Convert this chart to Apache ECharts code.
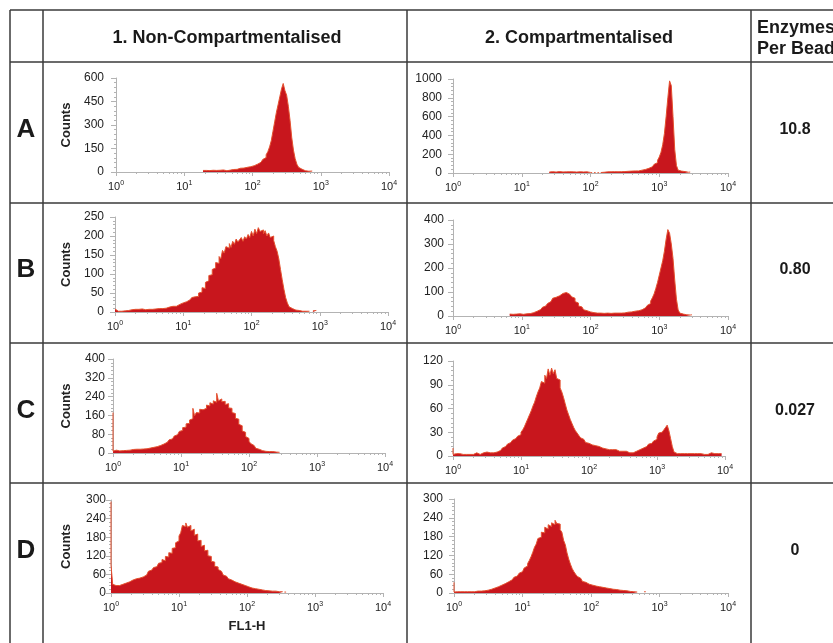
<!DOCTYPE html>
<html>
<head>
<meta charset="utf-8">
<script src="https://cdn.jsdelivr.net/npm/echarts@6/dist/echarts.min.js"></script>
<style>
  html, body { margin: 0; padding: 0; background: #fff; }
  #chart { width: 833px; height: 643px; }
</style>
</head>
<body>
<div id="chart"></div>
<script>
// table text
const columnTitles = ['1. Non-Compartmentalised', '2. Compartmentalised']
const enzymesTitle = ['Enzymes', 'Per Bead']
const rowLabels = ['A', 'B', 'C', 'D']
const enzymesPerBead = ['10.8', '0.80', '0.027', '0']

// y axis: max / tick step for each panel (A1, A2, B1, B2, C1, C2, D1, D2)
const yMaxes = [600, 1000, 250, 400, 400, 120, 300, 300]
const yIntervals = [150, 200, 50, 100, 80, 30, 60, 60]

// x axis decades (10^0 .. 10^4)
const decades = [1, 10, 100, 1000, 10000]
const minorSteps = [2, 3, 4, 5, 6, 7, 8, 9]

// histogram channels: each bin is 0.025 decade wide, starting at 10^start
const binStep = 0.025
const a1Start = 1.275
const a1Counts = [10, 8, 10, 12, 9, 10, 11, 9, 10, 12, 11, 10, 13, 18, 8, 5, 12, 15, 16, 18,
  17, 20, 24, 22, 25, 28, 30, 32, 34, 36, 40, 44, 50, 56, 62, 70, 80, 92, 110, 130,
  160, 200, 260, 320, 380, 430, 480, 530, 565, 520, 490, 420, 330, 220, 140, 85, 50, 30, 18, 12,
  8, 6, 5, 4, 6]
const a2Start = 1.4
const a2Counts = [10, 12, 14, 12, 10, 13, 15, 12, 11, 14, 12, 10, 13, 11, 12, 14, 10, 12, 13, 9,
  11, 10, 12, 8, 6, 3, null, 4, null, 3, null, 5, 8, 10, 12, 11, 13, 12, 14, 12,
  13, 15, 14, 16, 15, 17, 18, 16, 20, 18, 22, 24, 22, 26, 30, 34, 38, 44, 50, 58,
  66, 78, 92, 110, 135, 170, 220, 300, 420, 600, 800, 980, 930, 600, 250, 80, 30, 20, 18, 15,
  12, 8, 10]
const b1Start = 0
const b1Counts = [8, 3, 2, 3, 2, 4, 3, 5, 4, 3, 6, 5, 7, 6, 7, 6, 8, 7, 6, 8,
  7, 8, 7, 9, 8, 8, 9, 10, 9, 11, 10, 12, 13, 12, 15, 16, 15, 18, 20, 22,
  24, 23, 27, 30, 32, 35, 38, 40, 42, 41, 50, 52, 64, 62, 78, 82, 96, 98, 112, 116,
  130, 128, 146, 140, 162, 155, 172, 168, 180, 170, 186, 178, 192, 184, 190, 196, 186, 198, 192, 204,
  196, 212, 200, 218, 206, 222, 212, 216, 206, 214, 200, 208, 196, 200, 188, 172, 160, 140, 112, 85,
  60, 38, 24, 14, 9, 6, 5, 4, 4, 3, 2, 3, 2, 3, 2, null, null, 3, 4]
const b2Start = 0.65
const b2Counts = [4, null, null, null, null, null, null, null, 8, 7, 9, 8, 7, 9, 8, 7, 8, 9, 8, 10,
  12, 14, 18, 20, 24, 27, 32, 36, 42, 46, 52, 60, 66, 74, 78, 86, 84, 92, 94, 100,
  98, 100, 90, 88, 80, 74, 60, 54, 42, 38, 30, 26, 22, 19, 17, 15, 14, 13, 12, 11,
  12, 10, 11, 10, 12, 9, 11, 10, 12, 11, 12, 13, 12, 14, 13, 15, 16, 15, 17, 18,
  20, 19, 22, 24, 26, 30, 34, 38, 44, 52, 62, 76, 92, 115, 140, 170, 200, 230, 270, 320,
  360, 345, 300, 240, 150, 70, 25, 12, 8, 6, 5, 6, 4, 5]
const c1Start = 0
const c1Counts = [172, 8, 12, 10, 9, 11, 10, 12, 11, 13, 12, 14, 15, 14, 16, 17, 16, 18, 17, 19,
  18, 20, 21, 22, 24, 25, 27, 30, 32, 36, 38, 42, 46, 50, 56, 60, 66, 72, 78, 84,
  92, 96, 108, 110, 124, 126, 140, 146, 190, 158, 172, 170, 186, 184, 192, 190, 204, 200, 214, 208,
  222, 216, 254, 222, 230, 218, 220, 206, 210, 192, 190, 172, 168, 148, 144, 122, 116, 94, 88, 70,
  62, 50, 40, 32, 26, 20, 16, 12, 10, 8, 7, 6, 6, 5, 6, 5, 4, 5, 3]
const c2Start = 0
const c2Counts = [10, 2, 3, 2, 3, 2, 2, 3, 2, 3, 2, 3, 2, 3, 4, 3, 2, 3, 4, 3,
  5, 4, 4, 5, 4, 6, 5, 6, 7, 8, 10, 12, 13, 15, 17, 18, 20, 22, 23, 25,
  27, 30, 33, 37, 42, 47, 52, 57, 63, 68, 75, 81, 86, 94, 92, 102, 98, 110, 102, 111,
  104, 109, 98, 96, 86, 81, 74, 66, 58, 52, 46, 41, 36, 32, 29, 26, 23, 21, 19, 17,
  16, 15, 14, 14, 13, 12, 12, 11, 10, 11, 9, 10, 8, 9, 8, 7, 8, 7, 6, 7,
  6, 5, 6, 5, 4, 5, 4, 5, 6, 7, 8, 9, 10, 11, 12, 13, 15, 16, 18, 19,
  21, 24, 29, 30, 31, 33, 36, 39, 32, 22, 12, 5, 3, 4, 3, 2, 3, 2, 3, 2,
  3, 2, 3, 2, 3, 2, 3, 4, 2, 3, 2, 3, 4, 2, 3, 2, 3, 2, 3]
const d1Start = 0
const d1Counts = [295, 90, 28, 24, 26, 24, 27, 28, 30, 32, 31, 36, 40, 42, 44, 46, 45, 48, 50, 52,
  55, 58, 64, 70, 74, 78, 82, 85, 88, 96, 98, 108, 104, 118, 116, 130, 128, 144, 146, 162,
  168, 184, 194, 218, 214, 226, 212, 218, 200, 206, 186, 190, 168, 170, 150, 154, 136, 138, 120, 118,
  102, 100, 86, 84, 76, 70, 64, 58, 54, 50, 46, 42, 40, 36, 34, 32, 30, 28, 26, 24,
  22, 20, 18, 16, 15, 14, 12, 12, 11, 10, 9, 8, 8, 7, 6, 6, 5, 6, 5, 4,
  5, 4, null, 3]
const d2Start = 0
const d2Counts = [34, 3, 4, 3, 4, 3, 4, 3, 4, 5, 4, 5, 4, 5, 6, 5, 6, 7, 7, 8,
  9, 11, 12, 14, 16, 18, 20, 22, 25, 27, 30, 33, 36, 39, 42, 46, 50, 54, 58, 63,
  68, 74, 80, 86, 94, 104, 116, 130, 146, 156, 174, 178, 194, 192, 210, 204, 218, 212, 224, 218,
  232, 222, 220, 202, 194, 168, 154, 128, 108, 92, 78, 68, 60, 53, 47, 42, 37, 34, 31, 28,
  26, 25, 24, 22, 21, 20, 19, 18, 17, 16, 15, 14, 13, 12, 11, 11, 10, 9, 9, 8,
  7, 7, 6, 5, 5, 4, 4, 3, null, null, null, null, 4]

const panels = [
  [a1Start, a1Counts], [a2Start, a2Counts],
  [b1Start, b1Counts], [b2Start, b2Counts],
  [c1Start, c1Counts], [c2Start, c2Counts],
  [d1Start, d1Counts], [d2Start, d2Counts],
]

// plot boxes: [y-axis x, 10^4 x, top, zero line y, y label margin]
const boxes = [
  [116, 389, 78, 172, 12], [453, 728, 79, 173, 11],
  [115, 388, 217, 312, 11], [453, 728, 220, 316, 9],
  [113, 385, 359, 453, 8], [453, 725, 361, 456, 10],
  [111, 383, 500, 593, 5], [454, 728, 499, 593, 11],
]

const W = 833, H = 643
const FONT = 'Liberation Sans, Arial, Helvetica, sans-serif'
const axisGrey = '#b3b3b3'
const fillRed = '#c8161d'
const edgeRed = '#e4512f'

const toPoints = (start, counts) =>
  counts.map((c, i) => [Math.pow(10, start + i * binStep), c])

const minorValues = []
decades.slice(0, -1).forEach(d => minorSteps.forEach(m => minorValues.push(d * m)))

const grids = [], xAxes = [], yAxes = [], series = []
boxes.forEach((b, i) => {
  const firstCol = i % 2 === 0
  grids.push({ left: b[0], right: W - b[1], top: b[2], bottom: H - b[3], containLabel: false })
  // decades: main axis with labels
  xAxes.push({
    type: 'log', gridIndex: i, logBase: 10, min: 1, max: 10000,
    name: i === 6 ? 'FL1-H' : '',
    nameLocation: 'middle', nameGap: 27,
    nameTextStyle: { fontFamily: FONT, fontWeight: 'bold', fontSize: 13, color: '#222' },
    axisLine: { lineStyle: { color: axisGrey, width: 1 } },
    axisTick: { show: true, length: 4, customValues: decades, lineStyle: { color: axisGrey } },
    splitLine: { show: false },
    axisLabel: {
      margin: 8,
      customValues: decades,
      formatter: v => '{b|10}{s|' + Math.round(Math.log10(v)) + '}',
      rich: {
        b: { fontFamily: FONT, fontSize: 11, color: '#222' },
        s: { fontFamily: FONT, fontSize: 7, color: '#222', padding: [0, 0, 6, 0] },
      },
    },
  })
  // 2..9 minor ticks within each decade
  xAxes.push({
    type: 'log', gridIndex: i, logBase: 10, min: 1, max: 10000, position: 'bottom',
    axisLine: { show: false },
    axisTick: { show: true, length: 2, customValues: minorValues, lineStyle: { color: axisGrey } },
    axisLabel: { show: false },
    splitLine: { show: false },
  })
  yAxes.push({
    type: 'value', gridIndex: i, min: 0, max: yMaxes[i], interval: yIntervals[i],
    name: firstCol ? 'Counts' : '',
    nameLocation: 'middle', nameRotate: 90, nameGap: b[0] - 73,
    nameTextStyle: { fontFamily: FONT, fontWeight: 'bold', fontSize: 13, color: '#222' },
    axisLine: { show: true, lineStyle: { color: axisGrey, width: 1 } },
    axisTick: { show: true, length: 5, lineStyle: { color: axisGrey } },
    minorTick: { show: true, splitNumber: 5, length: 2, lineStyle: { color: axisGrey } },
    splitLine: { show: false },
    axisLabel: { margin: b[4], fontFamily: FONT, fontSize: 12, color: '#222', formatter: v => String(v) },
  })
  series.push({
    type: 'line', xAxisIndex: 2 * i, yAxisIndex: i,
    step: 'start', symbol: 'none', connectNulls: false, silent: true,
    lineStyle: { color: edgeRed, width: 1 },
    areaStyle: { color: fillRed, opacity: 1 },
    data: toPoints(panels[i][0], panels[i][1]),
  })
})

// table rules
const hLines = [10, 62, 203, 343, 483]
const vLines = [10, 43, 407, 751]
const rowCentres = [130, 270, 411, 551]
const graphic = []
hLines.forEach(y => graphic.push({
  type: 'line', shape: { x1: 10, y1: y, x2: W, y2: y },
  style: { stroke: '#3a3a3a', lineWidth: 1.5 },
}))
vLines.forEach(x => graphic.push({
  type: 'line', shape: { x1: x, y1: 10, x2: x, y2: H },
  style: { stroke: '#3a3a3a', lineWidth: 1.5 },
}))
const text = (str, x, y, size, align) => ({
  type: 'text', x, y,
  style: {
    text: str, fill: '#1a1a1a', align: align || 'center', verticalAlign: 'middle',
    font: 'bold ' + size + 'px ' + FONT,
  },
})
graphic.push(text(columnTitles[0], 227, 38, 18))
graphic.push(text(columnTitles[1], 579, 38, 18))
graphic.push(text(enzymesTitle[0], 757, 28, 18, 'left'))
graphic.push(text(enzymesTitle[1], 757, 49, 18, 'left'))
rowLabels.forEach((r, i) => graphic.push(text(r, 26, rowCentres[i], 26)))
enzymesPerBead.forEach((v, i) => graphic.push(text(v, 795, rowCentres[i], 16)))

const chart = echarts.init(document.getElementById('chart'), null, { renderer: 'canvas' })
chart.setOption({
  backgroundColor: '#fff',
  animation: false,
  grid: grids,
  xAxis: xAxes,
  yAxis: yAxes,
  series,
  graphic,
})
</script>
</body>
</html>
